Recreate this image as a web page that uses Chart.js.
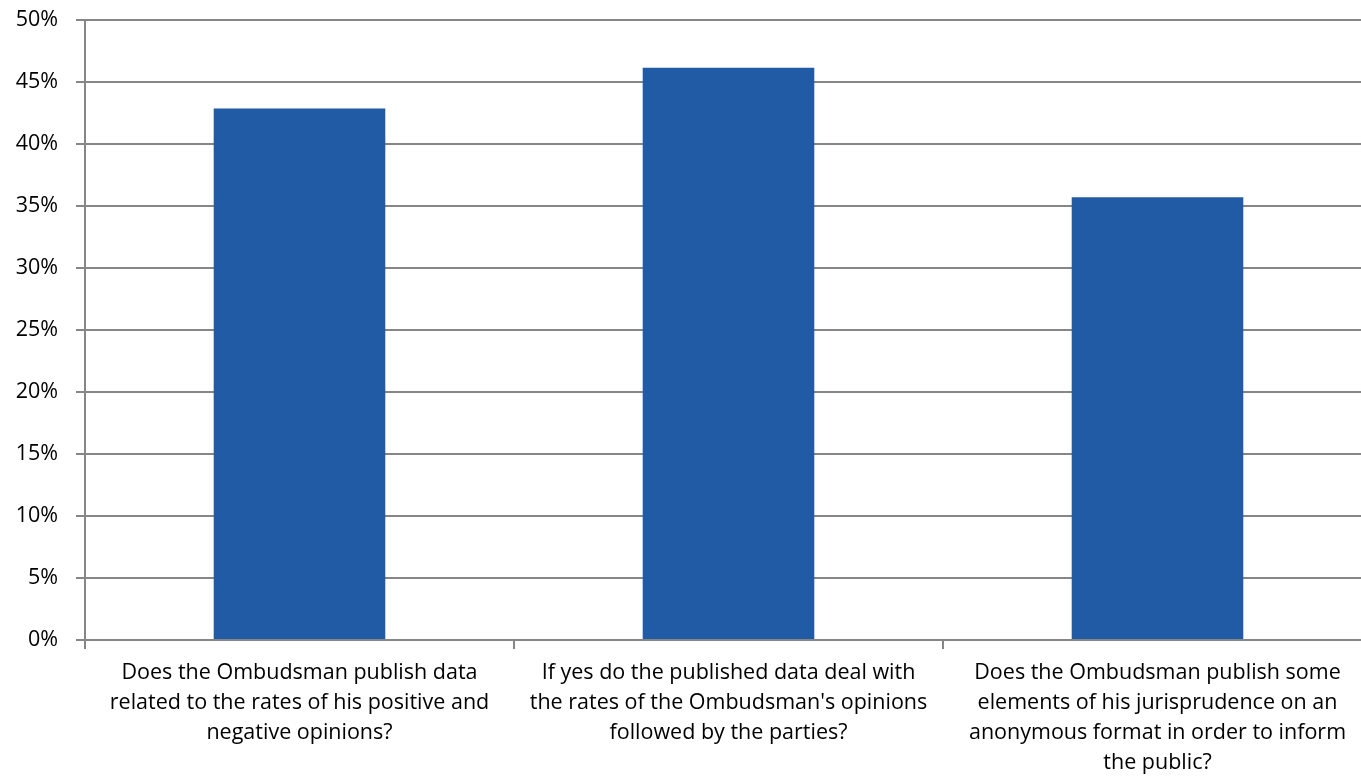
<!DOCTYPE html>
<html>
<head>
<meta charset="utf-8">
<script src="https://cdn.jsdelivr.net/npm/chart.js@4/dist/chart.umd.min.js"></script>
<style>
  html, body { margin: 0; padding: 0; background: #fff; overflow: hidden; }
  #wrap { width: 1372px; height: 784px; position: relative; }
</style>
</head>
<body>
<div id="wrap"><canvas id="c"></canvas></div>
<script>
// Survey questions (one per bar), wrapped as they are printed under the axis
const questions = [
  ["Does the Ombudsman publish data", "related to the rates of his positive and", "negative opinions?"],
  ["If yes do the published data deal with", "the rates of the Ombudsman's opinions", "followed by the parties?"],
  ["Does the Ombudsman publish some", "elements of his jurisprudence on an", "anonymous format in order to inform", "the public?"]
];
// Share of "yes" answers, in percent
const yesShare = [42.86, 46.15, 35.71];
const yMin = 0, yMax = 50, yStep = 5;

const axisGray = '#868686';
const barBlue = '#215AA5';
const tickFont = { family: '"Open Sans", sans-serif', size: 21.5, lineHeight: 1 };
const catFont = { family: '"Open Sans", sans-serif', size: 21.5, lineHeight: '30px' };

new Chart(document.getElementById('c'), {
  type: 'bar',
  data: {
    labels: questions,
    datasets: [{
      data: yesShare,
      backgroundColor: barBlue,
      borderWidth: 0,
      barPercentage: 0.4,
      categoryPercentage: 1.0
    }]
  },
  options: {
    responsive: true,
    maintainAspectRatio: false,
    animation: false,
    layout: { padding: { top: 20, right: 0, left: 0, bottom: 0 } },
    plugins: { legend: { display: false }, tooltip: { enabled: false } },
    scales: {
      x: {
        grid: { display: true, drawOnChartArea: false, drawTicks: true, tickLength: 9, color: axisGray, lineWidth: 2 },
        border: { display: true, color: axisGray, width: 2 },
        ticks: { color: '#000', font: catFont, maxRotation: 0, autoSkip: false, padding: 9 },
        afterFit: s => { s.height = 144; }
      },
      y: {
        min: yMin, max: yMax,
        grid: { color: axisGray, lineWidth: 2, tickLength: 9 },
        border: { display: true, color: axisGray, width: 2 },
        ticks: { stepSize: yStep, color: '#000', font: tickFont, padding: 18, callback: v => v + '%' },
        afterFit: s => { s.width = 85; s.paddingTop = 0; s.paddingBottom = 0; }
      }
    }
  }
});
</script>
</body>
</html>
